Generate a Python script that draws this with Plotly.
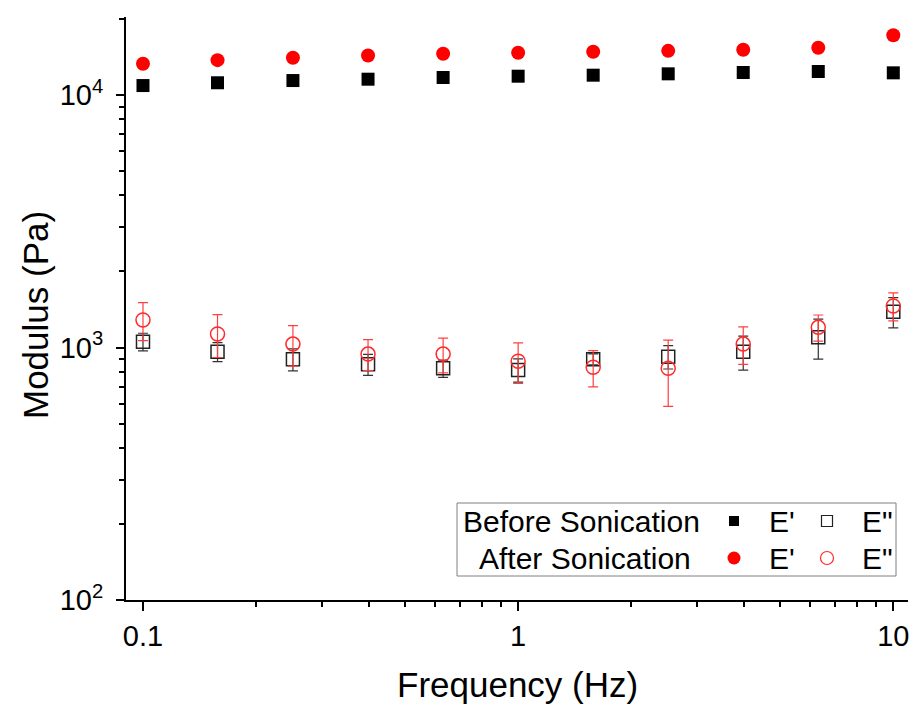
import plotly.graph_objects as go

# ---- data ----
freq = [0.1, 0.158, 0.251, 0.398, 0.631, 1.0, 1.585, 2.512, 3.981, 6.31, 10.0]

before_E1 = [10900, 11180, 11410, 11550, 11730, 11870, 11980, 12130, 12280, 12390, 12240]
after_E1 = [13290, 13740, 14040, 14340, 14560, 14700, 14830, 14960, 15100, 15380, 17250]

before_E2 = [1054, 962, 898, 858, 827, 815, 898, 920, 962, 1098, 1386]
before_E2_err = [85, 83, 90, 82, 65, 86, 45, 98, 148, 198, 190]

after_E2 = [1285, 1131, 1032, 942, 942, 882, 835, 827, 1032, 1202, 1460]
after_E2_err = [220, 218, 188, 132, 148, 162, 137, 242, 175, 143, 185]

ytick_vals = [100, 1000, 10000]
ytick_text = ["10<sup>2</sup>", "10<sup>3</sup>", "10<sup>4</sup>"]
xtick_vals = [0.1, 1, 10]
xtick_text = ["0.1", "1", "10"]

legend_rows = ["Before Sonication", "After Sonication"]

# ---- layout geometry ----
W, H = 913, 704
L, R, T, B = 126, 5, 17, 104
PW, PH = W - L - R, H - T - B


def xp(px):
    return (px - L) / PW


def yp(py):
    return (H - B - py) / PH


FONT = "Liberation Sans, Arial, sans-serif"

fig = go.Figure()

fig.add_trace(go.Scatter(
    x=freq, y=before_E2, mode="markers", name='Before E"',
    marker=dict(symbol="square-open", size=13, color="#222222", line=dict(width=1.5)),
    error_y=dict(type="data", array=before_E2_err, visible=True, color="#333333",
                 thickness=1.2, width=5),
))
fig.add_trace(go.Scatter(
    x=freq, y=after_E2, mode="markers", name='After E"',
    marker=dict(symbol="circle-open", size=14, color="#ff2a2a", line=dict(width=1.5)),
    error_y=dict(type="data", array=after_E2_err, visible=True, color="#ff4040",
                 thickness=1.2, width=5),
))
fig.add_trace(go.Scatter(
    x=freq, y=before_E1, mode="markers", name="Before E'",
    marker=dict(symbol="square", size=13, color="black"),
))
fig.add_trace(go.Scatter(
    x=freq, y=after_E1, mode="markers", name="After E'",
    marker=dict(symbol="circle", size=14, color="red"),
))

ymin_minor = [m * 10 ** e for e in (2, 3) for m in range(2, 10)] + [20000]
xmin_minor = [0.09] + [m * 10 ** e for e in (-1, 0) for m in range(2, 10)]

fig.update_layout(
    width=W, height=H,
    margin=dict(l=L, r=R, t=T, b=B),
    paper_bgcolor="white", plot_bgcolor="white",
    showlegend=False,
    font=dict(family=FONT, color="black"),
    xaxis=dict(
        type="log", range=[-1.0453, 1.0392],
        showline=True, linecolor="black", linewidth=2, mirror=False,
        showgrid=False, zeroline=False,
        ticks="outside", ticklen=9, tickwidth=2, tickcolor="black",
        tickmode="array", tickvals=xtick_vals, ticktext=xtick_text,
        tickfont=dict(size=29, family=FONT, color="black"),
        minor=dict(ticks="outside", ticklen=5, tickwidth=1.5, tickcolor="black",
                   tickmode="array", tickvals=xmin_minor, showgrid=False),
    ),
    yaxis=dict(
        type="log", range=[2, 2 + 583 / 252.5],
        showline=True, linecolor="black", linewidth=2, mirror=False,
        showgrid=False, zeroline=False,
        ticks="outside", ticklen=8, tickwidth=2, tickcolor="black",
        ticklabelstandoff=7,
        tickmode="array", tickvals=ytick_vals, ticktext=ytick_text,
        tickfont=dict(size=29, family=FONT, color="black"),
        minor=dict(ticks="outside", ticklen=5, tickwidth=1.5, tickcolor="black",
                   tickmode="array", tickvals=ymin_minor, showgrid=False),
    ),
)

annotations = [
    dict(text="Modulus (Pa)", textangle=-90, x=xp(35), y=yp(315), xref="paper", yref="paper",
         showarrow=False, xanchor="center", yanchor="middle",
         font=dict(size=35, family=FONT, color="black")),
    dict(text="Frequency (Hz)", x=xp(517), y=yp(684), xref="paper", yref="paper",
         showarrow=False, xanchor="center", yanchor="middle",
         font=dict(size=35, family=FONT, color="black")),
]

row_y = [521, 558]
row_x = [581, 585]
for name, ry, rx in zip(legend_rows, row_y, row_x):
    annotations.append(dict(text=name, x=xp(rx), y=yp(ry), xref="paper", yref="paper",
                            showarrow=False, xanchor="center", yanchor="middle",
                            font=dict(size=30, family=FONT, color="black")))
    annotations.append(dict(text="E'", x=xp(767), y=yp(ry), xref="paper", yref="paper",
                            showarrow=False, xanchor="left", yanchor="middle",
                            font=dict(size=30, family=FONT, color="black")))
    annotations.append(dict(text='E"', x=xp(860), y=yp(ry), xref="paper", yref="paper",
                            showarrow=False, xanchor="left", yanchor="middle",
                            font=dict(size=30, family=FONT, color="black")))

shapes = [
    dict(type="rect", xref="paper", yref="paper", x0=xp(457), x1=xp(896), y0=yp(576), y1=yp(503),
         line=dict(color="#808080", width=1), fillcolor="white", layer="above"),
]


def sym(kind, cx, cy, size, fill, line_color, lw=1.2):
    return dict(type=kind, xref="paper", yref="paper", xsizemode="pixel", ysizemode="pixel",
                xanchor=xp(cx), yanchor=yp(cy), x0=-size / 2, x1=size / 2,
                y0=-size / 2, y1=size / 2, fillcolor=fill,
                line=dict(color=line_color, width=lw), layer="above")


shapes += [
    sym("rect", 734, row_y[0], 10, "black", "black", 0),
    sym("rect", 827, row_y[0], 11, "rgba(0,0,0,0)", "#222222", 1.2),
    sym("circle", 734, row_y[1], 13, "red", "red", 0),
    sym("circle", 827, row_y[1], 13, "rgba(0,0,0,0)", "#ff2a2a", 1.2),
]

fig.update_layout(annotations=annotations, shapes=shapes)

fig.write_html(
    "out.html",
    config={"displayModeBar": False},
    post_script="document.body.style.margin='0';document.body.style.padding='0';"
                "document.documentElement.style.overflow='hidden';",
)
